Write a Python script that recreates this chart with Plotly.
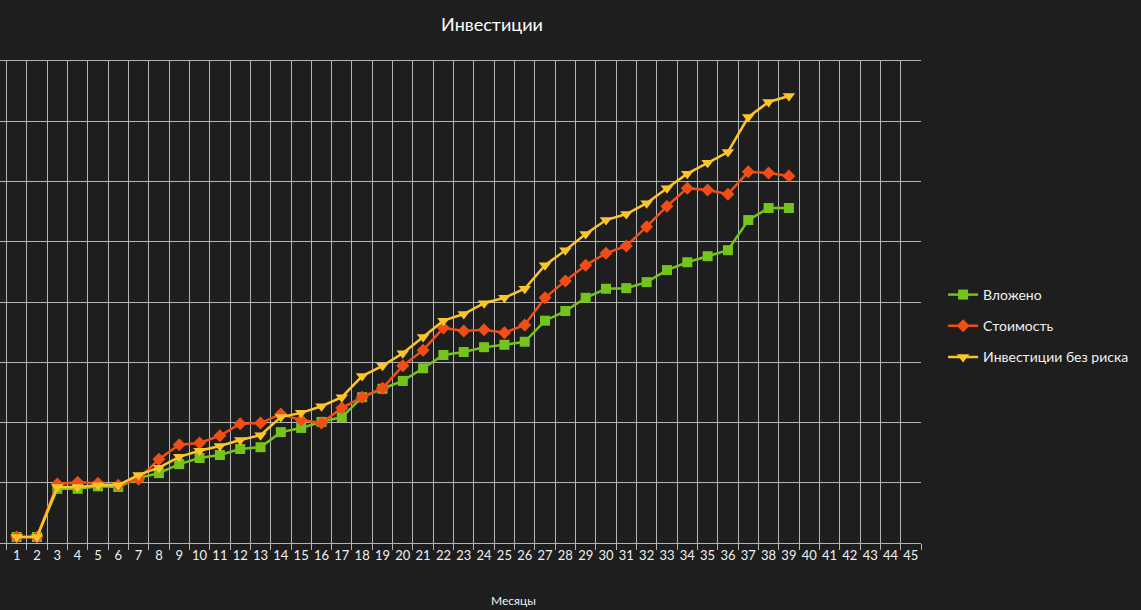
import plotly.graph_objects as go

months = list(range(1, 40))
tick_labels = [str(i) for i in range(1, 46)]

invested = [1000, 1000, 9000, 9000, 9400, 9300, 10800, 11600, 13100, 14100,
            14600, 15600, 15900, 18400, 19100, 20100, 20900, 24200, 25600, 26900,
            29000, 31200, 31700, 32500, 32900, 33400, 36900, 38500, 40700, 42200,
            42300, 43300, 45300, 46600, 47600, 48600, 53600, 55600, 55600]

value = [1000, 1000, 9800, 10100, 9900, 9600, 10600, 13900, 16300, 16600,
         17800, 19800, 19900, 21400, 20400, 19900, 22400, 24200, 25700, 29400,
         32000, 35700, 35200, 35400, 34900, 36200, 40700, 43500, 46100, 48100,
         49300, 52500, 55900, 58900, 58600, 57900, 61600, 61400, 60900]

riskfree = [1000, 1000, 9300, 9300, 9600, 9600, 11300, 12500, 14300, 15300,
            16100, 17100, 17900, 20900, 21600, 22700, 24200, 27700, 29400, 31500,
            34200, 36900, 38000, 39800, 40700, 42200, 46100, 48600, 51300, 53600,
            54600, 56400, 58900, 61300, 63100, 64900, 70700, 73200, 74200]

series_names = ["Вложено", "Стоимость", "Инвестиции без риска"]
colors = ["#74c41c", "#f04d17", "#fbc52a"]
symbols = ["square", "diamond", "triangle-down"]
sizes = [10, 10, 11]

fig = go.Figure()
for k, (name, ys, c, s, sz) in enumerate(zip(series_names, [invested, value, riskfree], colors, symbols, sizes)):
    fig.add_trace(go.Scatter(
        x=months, y=ys, name=name, mode="lines+markers",
        legendgroup=f"g{k}",
        line=dict(color=c, width=2.5),
        marker=dict(symbol=s, size=sz, color=c),
    ))

grid = "#b4b4b4"
fig.update_layout(
    width=1141, height=610,
    paper_bgcolor="#1e1e1e", plot_bgcolor="#1e1e1e",
    margin=dict(l=0, r=220, t=61, b=67),
    font=dict(family="Lato, 'Open Sans', sans-serif", color="#f0f0f0", size=13),
    title=dict(text="Инвестиции", x=492 / 921, xref="paper", xanchor="center",
               y=1 - 25 / 610, yanchor="middle",
               font=dict(size=18, color="#ffffff")),
    showlegend=True,
    legend=dict(x=1.024, xanchor="left", y=(543 - 326) / 482, yanchor="middle",
                font=dict(size=14, color="#f0f0f0"), bgcolor="rgba(0,0,0,0)",
                tracegroupgap=10, itemwidth=30),
    xaxis=dict(
        range=[0.18, 45.5],
        tickmode="array", tickvals=list(range(1, 46)), ticktext=tick_labels,
        showgrid=False, ticks="", zeroline=False,
        tickfont=dict(size=13, color="#f0f0f0"),
        showline=True, mirror=True, linecolor=grid, linewidth=1,
        minor=dict(tickmode="array", tickvals=[i + 0.5 for i in range(0, 46)],
                   showgrid=True, gridcolor=grid, gridwidth=1,
                   ticks="outside", ticklen=6, tickcolor=grid),
    ),
    yaxis=dict(
        range=[0, 80000], dtick=10000, showticklabels=False,
        showgrid=True, gridcolor=grid, gridwidth=1, zeroline=False,
    ),
    annotations=[dict(text="Месяцы", x=513 / 921, xref="paper", y=-57 / 482, yref="paper",
                      showarrow=False, font=dict(size=12, color="#f0f0f0"),
                      xanchor="center", yanchor="middle")],
)

fig.write_html("out.html")
